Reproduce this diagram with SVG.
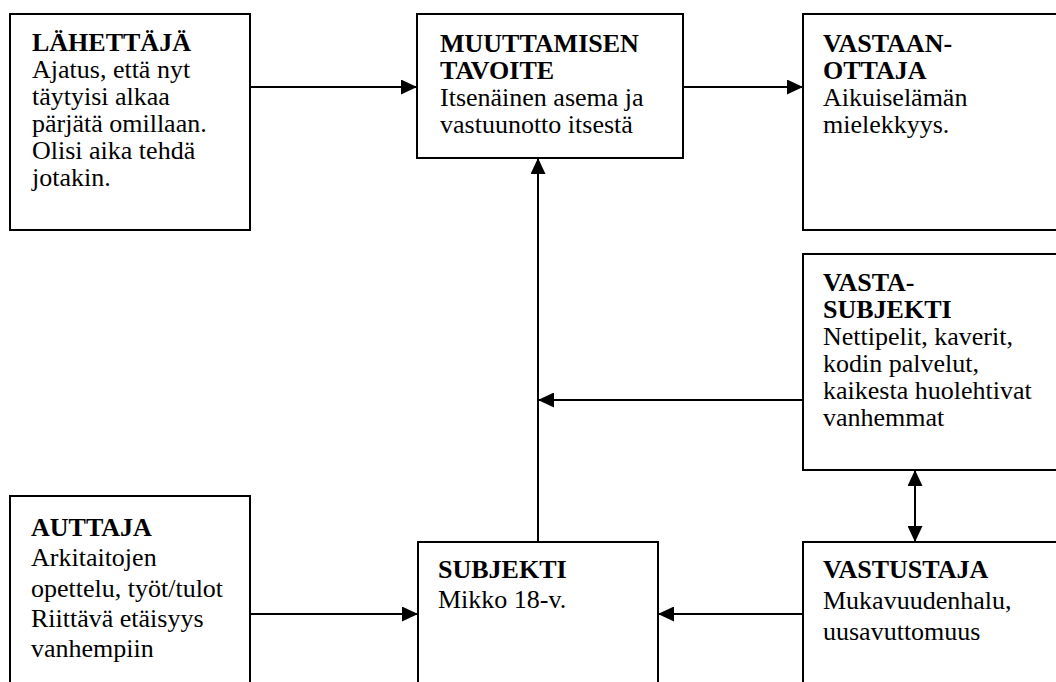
<svg xmlns="http://www.w3.org/2000/svg" width="1056" height="682" viewBox="0 0 1056 682">
<style>
.box{fill:#fff;stroke:#000;stroke-width:2}
.h{font-family:"Liberation Serif","Times New Roman",serif;font-size:26px;font-weight:bold;fill:#000}
.t{font-family:"Liberation Serif","Times New Roman",serif;font-size:26px;fill:#000}
.c{stroke:#000;stroke-width:2;fill:none}
</style>
<defs>
<marker id="ah" markerUnits="userSpaceOnUse" markerWidth="16" markerHeight="15" refX="16" refY="7.5" orient="auto-start-reverse">
<path d="M0,0 L16,7.5 L0,15 Z" fill="#000"/>
</marker>
</defs>
<rect width="1056" height="682" fill="#fff"/>
<g id="connectors">
<line class="c" x1="250" y1="87" x2="417" y2="87" marker-end="url(#ah)"/>
<line class="c" x1="683" y1="87" x2="803" y2="87" marker-end="url(#ah)"/>
<line class="c" x1="538" y1="542" x2="538" y2="158" marker-end="url(#ah)"/>
<line class="c" x1="803" y1="400" x2="538" y2="400" marker-end="url(#ah)"/>
<line class="c" x1="915" y1="470" x2="915" y2="542" marker-start="url(#ah)" marker-end="url(#ah)"/>
<line class="c" x1="250" y1="614" x2="418" y2="614" marker-end="url(#ah)"/>
<line class="c" x1="803" y1="614" x2="658" y2="614" marker-end="url(#ah)"/>
</g>
<g id="lahettaja">
<rect class="box" x="10" y="14" width="240" height="216"/>
<text class="h" x="32" y="51">LÄHETTÄJÄ</text>
<text class="t" x="32" y="78">Ajatus, että nyt</text>
<text class="t" x="32" y="105">täytyisi alkaa</text>
<text class="t" x="32" y="132">pärjätä omillaan.</text>
<text class="t" x="32" y="159">Olisi aika tehdä</text>
<text class="t" x="32" y="186">jotakin.</text>
</g>
<g id="tavoite">
<rect class="box" x="417" y="14" width="266" height="144"/>
<text class="h" x="440" y="52">MUUTTAMISEN</text>
<text class="h" x="440" y="79">TAVOITE</text>
<text class="t" x="440" y="106">Itsenäinen asema ja</text>
<text class="t" x="440" y="133">vastuunotto itsestä</text>
</g>
<g id="vastaanottaja">
<rect class="box" x="803" y="14" width="260" height="216"/>
<text class="h" x="823" y="52">VASTAAN-</text>
<text class="h" x="823" y="79">OTTAJA</text>
<text class="t" x="823" y="106">Aikuiselämän</text>
<text class="t" x="823" y="133">mielekkyys.</text>
</g>
<g id="vastasubjekti">
<rect class="box" x="803" y="254" width="260" height="216"/>
<text class="h" x="823" y="291">VASTA-</text>
<text class="h" x="823" y="318">SUBJEKTI</text>
<text class="t" x="823" y="345">Nettipelit, kaverit,</text>
<text class="t" x="823" y="372">kodin palvelut,</text>
<text class="t" x="823" y="399">kaikesta huolehtivat</text>
<text class="t" x="823" y="426">vanhemmat</text>
</g>
<g id="auttaja">
<rect class="box" x="10" y="496" width="240" height="200"/>
<text class="h" x="31" y="536">AUTTAJA</text>
<text class="t" x="31" y="566">Arkitaitojen</text>
<text class="t" x="31" y="597">opettelu, työt/tulot</text>
<text class="t" x="31" y="627">Riittävä etäisyys</text>
<text class="t" x="31" y="657">vanhempiin</text>
</g>
<g id="subjekti">
<rect class="box" x="418" y="542" width="240" height="160"/>
<text class="h" x="438" y="578">SUBJEKTI</text>
<text class="t" x="438" y="608">Mikko 18-v.</text>
</g>
<g id="vastustaja">
<rect class="box" x="803" y="542" width="260" height="160"/>
<text class="h" x="823" y="578">VASTUSTAJA</text>
<text class="t" x="823" y="609">Mukavuudenhalu,</text>
<text class="t" x="823" y="640">uusavuttomuus</text>
</g>
</svg>
